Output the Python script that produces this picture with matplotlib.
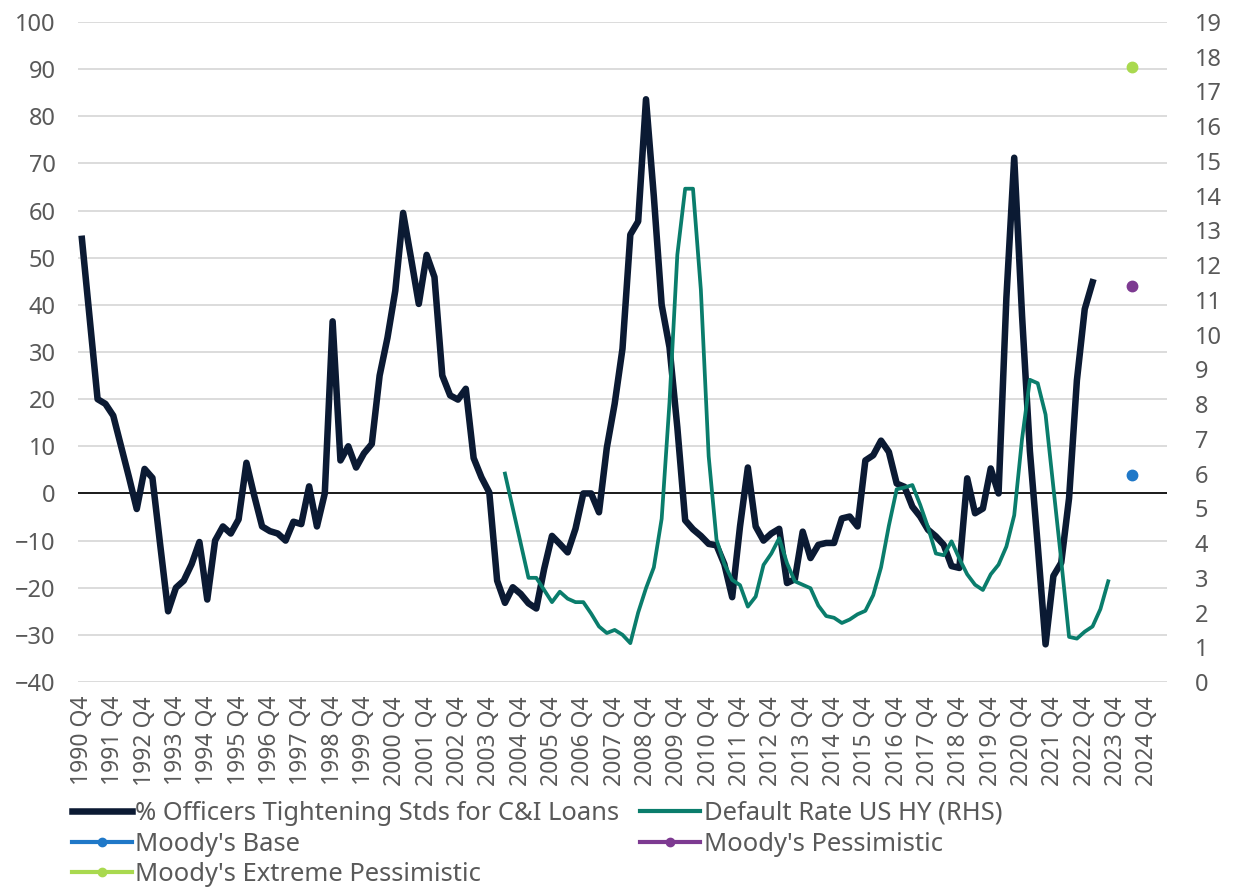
import matplotlib
matplotlib.use("Agg")
import matplotlib.pyplot as plt
from matplotlib.lines import Line2D
import numpy as np

plt.rcParams['font.family'] = ['Noto Sans', 'DejaVu Sans']

# quarterly categories, 1990 Q4 .. 2025 Q2
quarters = []
for y in range(1990, 2026):
    for q in range(1, 5):
        if (y == 1990 and q < 4) or (y == 2025 and q > 2):
            continue
        quarters.append(f"{y} Q{q}")

# % officers tightening standards for C&I loans, from 1990 Q4
tightening = [54, 37, 20, 19, 16.5, 10, 3.5, -3.3, 5.2, 3.3,
              -11, -25, -20, -18.5, -15, -10.3, -22.5, -10, -7, -8.5,
              -5.5, 6.5, -0.5, -7, -8, -8.5, -10, -6, -6.5, 1.5,
              -7, 0, 36.5, 7, 10, 5.5, 8.5, 10.5, 25, 33,
              43, 59.5, 50, 40.2, 50.6, 45.9, 25, 20.8, 19.9, 22.2,
              7.5, 3.4, 0.2, -18.5, -23.2, -19.9, -21.3, -23.3, -24.4, -16,
              -9, -10.7, -12.5, -7.5, 0, 0, -4, 9.7, 19, 30.7,
              54.9, 57.7, 83.6, 63, 40, 31, 14, -5.7, -7.6, -9,
              -10.7, -11, -15, -22, -7, 5.5, -7, -10, -8.5, -7.5,
              -19, -18.2, -8.1, -13.7, -10.9, -10.5, -10.5, -5.3, -4.9, -7,
              7, 8.1, 11.2, 8.8, 2.1, 1.4, -2.8, -4.9, -7.7, -9.1,
              -10.9, -15.4, -15.8, 3.2, -4.2, -3.2, 5.3, 0, 41.5, 71.2,
              37.7, 9, -11, -32, -17.5, -14.7, -1, 24, 39.1, 44.8]

# default rate US HY (RHS), from 2004 Q2
default_start = "2004 Q2"
default_rate = [6.0, 5.0, 4.0, 3.0, 3.0, 2.65, 2.3, 2.6, 2.4, 2.3,
                2.3, 1.97, 1.6, 1.41, 1.5, 1.36, 1.12, 2.0, 2.7, 3.3,
                4.7, 8.05, 12.3, 14.2, 14.2, 11.3, 6.5, 4.1, 3.4, 2.94,
                2.79, 2.17, 2.46, 3.37, 3.7, 4.14, 3.42, 2.9, 2.8, 2.7,
                2.2, 1.9, 1.85, 1.7, 1.8, 1.95, 2.05, 2.5, 3.3, 4.5,
                5.55, 5.6, 5.67, 5.1, 4.45, 3.7, 3.65, 4.05, 3.55, 3.1,
                2.8, 2.65, 3.1, 3.38, 3.9, 4.8, 7.0, 8.7, 8.6, 7.7,
                5.6, 3.5, 1.3, 1.25, 1.45, 1.6, 2.1, 2.9]

# Moody's default rate scenarios
scenario_quarter = "2024 Q2"
moodys_base = 5.95
moodys_pess = 11.4
moodys_extreme = 17.7

navy = '#0b1a33'
teal = '#0a7d6c'
blue = '#1f78c8'
purple = '#7d3a91'
lime = '#a9d94f'
grey_txt = '#595959'

fig = plt.figure(figsize=(12.34, 8.89), dpi=100)
ax = fig.add_axes([0.0632, 0.2328, 0.8825, 0.7425])
ax2 = ax.twinx()

x_all = np.arange(len(quarters))
x_t = x_all[:len(tightening)]
d0 = quarters.index(default_start)
x_d = np.arange(d0, d0 + len(default_rate))
xs = quarters.index(scenario_quarter)

ax.plot(x_t, tightening, color=navy, lw=4.7, solid_joinstyle='round', zorder=3)
ax.axhline(0, color='#1a1a1a', lw=1.4, zorder=2)
ax2.plot(x_d, default_rate, color=teal, lw=2.7, solid_joinstyle='round')
ax2.plot([xs], [moodys_base], marker='o', ms=7.5, color=blue, ls='none')
ax2.plot([xs], [moodys_pess], marker='o', ms=7.5, color=purple, ls='none')
ax2.plot([xs], [moodys_extreme], marker='o', ms=7.5, color=lime, ls='none')

ax.set_xlim(-0.5, len(quarters) - 0.5)
ax.set_ylim(-40, 100)
ax.set_yticks(np.arange(-40, 101, 10))
ax2.set_ylim(0, 19)
ax2.set_yticks(np.arange(0, 20, 1))

tick_idx = [i for i, q in enumerate(quarters) if q.endswith("Q4") and int(q[:4]) <= 2024]
ax.set_xticks(tick_idx)
ax.set_xticklabels([quarters[i] for i in tick_idx], rotation=90, fontsize=16.5, color=grey_txt)

ax.grid(axis='y', color='#d9d9d9', lw=1.3)
ax.set_axisbelow(True)
for a in (ax, ax2):
    for s in a.spines.values():
        s.set_visible(False)
ax.tick_params(axis='x', length=0, pad=10)
ax.tick_params(axis='y', length=0, pad=16, labelsize=17, labelcolor=grey_txt)
ax2.tick_params(axis='y', length=0, pad=20, labelsize=17, labelcolor=grey_txt)

handles = [
    Line2D([], [], color=navy, lw=4.7, label="% Officers Tightening Stds for C&I Loans"),
    Line2D([], [], color=blue, lw=3, marker='o', ms=6, label="Moody's Base"),
    Line2D([], [], color=lime, lw=3, marker='o', ms=6, label="Moody's Extreme Pessimistic"),
    Line2D([], [], color=teal, lw=3, label="Default Rate US HY (RHS)"),
    Line2D([], [], color=purple, lw=3, marker='o', ms=6, label="Moody's Pessimistic"),
]
leg = fig.legend(handles=handles, loc='upper left', bbox_to_anchor=(0.0585, 0.099),
                 ncol=2, frameon=False, fontsize=18.4, handlelength=2.35,
                 handletextpad=0.12, columnspacing=0.82, labelspacing=0.22,
                 borderpad=0, borderaxespad=0)
for t in leg.get_texts():
    t.set_color(grey_txt)

fig.savefig("out.png", dpi=100)
